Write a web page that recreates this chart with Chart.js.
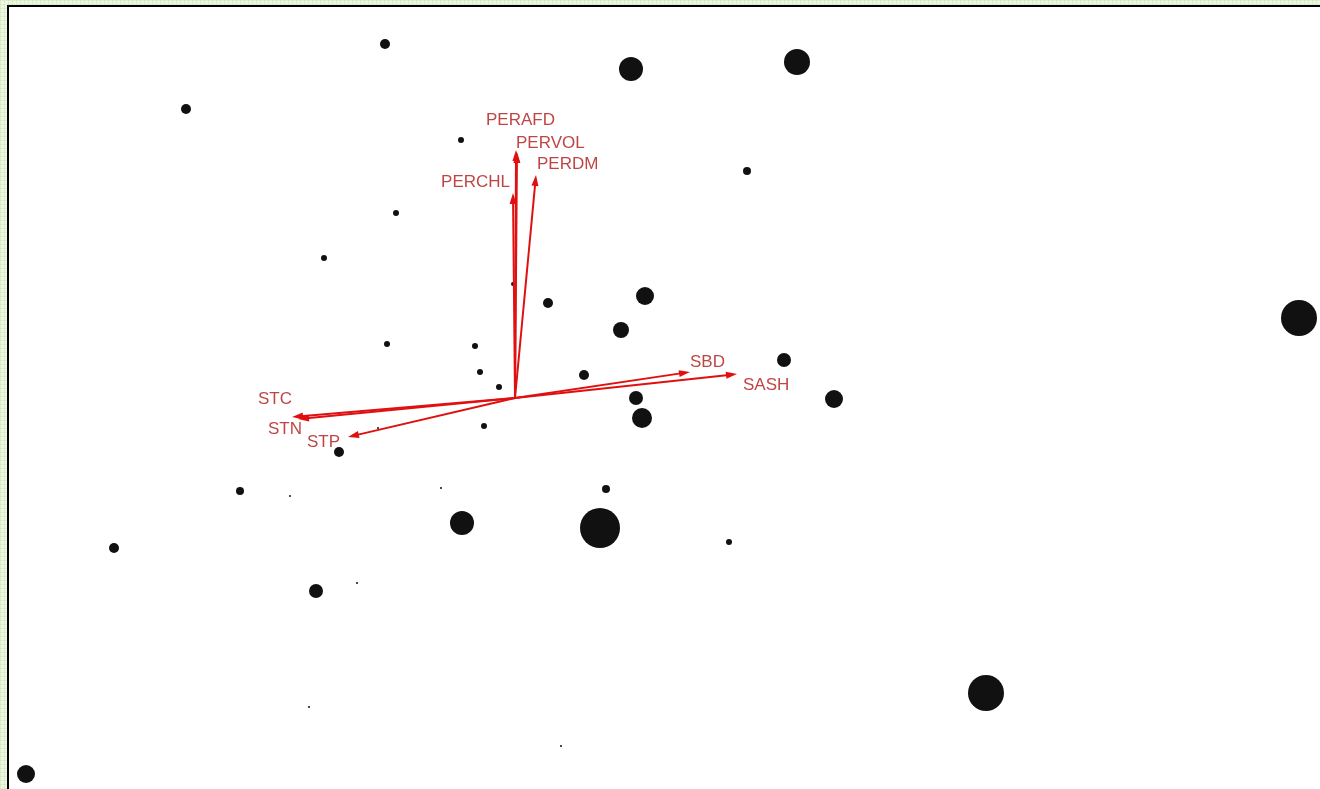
<!DOCTYPE html>
<html>
<head>
<meta charset="utf-8">
<script src="https://cdn.jsdelivr.net/npm/chart.js@4/dist/chart.umd.min.js"></script>
<style>
  html, body { margin: 0; padding: 0; width: 1320px; height: 789px; overflow: hidden; }
  body {
    background-color: #eef6e4;
    background-image:
      repeating-linear-gradient(0deg, rgba(190,220,160,0.35) 0 1px, transparent 1px 4px),
      repeating-linear-gradient(90deg, rgba(190,220,160,0.35) 0 1px, transparent 1px 4px);
  }
  #frame {
    position: absolute; left: 7px; top: 5px; right: -10px; bottom: -10px;
    background: #fff; border-top: 2px solid #000; border-left: 2px solid #000;
  }
  #plot { position: absolute; left: 0; top: 0; }
</style>
</head>
<body>
<div id="frame"></div>
<canvas id="plot" width="1320" height="789"></canvas>
<script>
// site scores (axis 1, axis 2) and site weight used for the marker size
const siteX = [-1.30, 1.16, 2.82, -3.29, -0.54, 2.32, -1.19, -1.91, -0.02, 0.33,
  1.30, 1.06, 7.84, -1.28, -0.40, 2.69, -0.35, 0.69, -0.16, 1.21,
  3.19, 1.27, -0.31, -1.37, -1.76, -2.75, -2.25, -0.74, 0.91, -0.53,
  0.85, 2.14, -4.01, -1.99, -1.58, 4.71, -2.06, 0.46, -4.89];
const siteY = [3.54, 3.29, 3.36, 2.89, 2.58, 2.27, 1.85, 1.40, 1.14, 0.95,
  1.02, 0.68, 0.80, 0.54, 0.52, 0.38, 0.26, 0.23, 0.11, 0.00,
  -0.01, -0.20, -0.28, -0.30, -0.54, -0.93, -0.98, -0.90, -0.91, -1.25,
  -1.30, -1.44, -1.50, -1.93, -1.85, -2.95, -3.09, -3.48, -3.76];
const siteWeight = [5, 12, 13, 5, 3, 4, 3, 3, 2, 5,
  9, 8, 18, 3, 3, 7, 3, 5, 3, 7,
  9, 10, 3, 1, 5, 4, 1, 1, 4, 12,
  20, 3, 5, 7, 1, 18, 1, 1, 9];

// environmental variable vectors
const varNames = ['PERAFD', 'PERVOL', 'PERCHL', 'PERDM', 'SBD', 'SASH', 'STC', 'STN', 'STP'];
const varX = [0.01, 0.02, -0.02, 0.21, 1.75, 2.22, -2.23, -2.17, -1.67];
const varY = [2.48, 2.46, 2.05, 2.23, 0.26, 0.24, -0.19, -0.21, -0.39];

// label placement relative to the arrow tip, in pixels
const labelOffset = {
  PERAFD: [-30, -30, 'left'], PERVOL: [-1, -9, 'left'], PERCHL: [-3, -11, 'right'],
  PERDM: [1, -11, 'left'], SBD: [0, -10, 'left'], SASH: [6, 11, 'left'],
  STC: [-34, -18, 'left'], STN: [-30, 10, 'left'], STP: [-41, 5, 'left']
};

const arrowPlugin = {
  id: 'biplotArrows',
  afterDatasetsDraw(chart) {
    const ctx = chart.ctx;
    const sx = chart.scales.x, sy = chart.scales.y;
    const ox = sx.getPixelForValue(0), oy = sy.getPixelForValue(0);
    ctx.save();
    ctx.strokeStyle = '#e01010';
    ctx.fillStyle = '#e01010';
    ctx.lineWidth = 2;
    varNames.forEach((name, i) => {
      const tx = sx.getPixelForValue(varX[i]);
      const ty = sy.getPixelForValue(varY[i]);
      const ang = Math.atan2(ty - oy, tx - ox);
      ctx.beginPath();
      ctx.moveTo(ox, oy);
      ctx.lineTo(tx - 6 * Math.cos(ang), ty - 6 * Math.sin(ang));
      ctx.stroke();
      ctx.beginPath();
      ctx.moveTo(tx, ty);
      ctx.lineTo(tx - 11 * Math.cos(ang) + 3.5 * Math.sin(ang), ty - 11 * Math.sin(ang) - 3.5 * Math.cos(ang));
      ctx.lineTo(tx - 11 * Math.cos(ang) - 3.5 * Math.sin(ang), ty - 11 * Math.sin(ang) + 3.5 * Math.cos(ang));
      ctx.closePath();
      ctx.fill();
    });
    ctx.fillStyle = '#bf4545';
    ctx.font = '17px "Liberation Sans", Arial, sans-serif';
    ctx.textBaseline = 'middle';
    varNames.forEach((name, i) => {
      const off = labelOffset[name];
      ctx.textAlign = off[2];
      ctx.fillText(name, sx.getPixelForValue(varX[i]) + off[0], sy.getPixelForValue(varY[i]) + off[1]);
    });
    ctx.restore();
  }
};

new Chart(document.getElementById('plot').getContext('2d'), {
  type: 'scatter',
  data: {
    datasets: [{
      data: siteX.map((x, i) => ({ x: x, y: siteY[i] })),
      pointRadius: siteWeight,
      pointBackgroundColor: '#111',
      pointBorderWidth: 0,
      pointHoverRadius: siteWeight,
      clip: false
    }]
  },
  options: {
    responsive: false,
    animation: false,
    events: [],
    layout: { padding: 0, autoPadding: false },
    plugins: { legend: { display: false }, tooltip: { enabled: false } },
    scales: {
      x: { type: 'linear', display: false, min: -5.15, max: 8.05 },
      y: { type: 'linear', display: false, min: -3.91, max: 3.98 }
    }
  },
  plugins: [arrowPlugin]
});
</script>
</body>
</html>
